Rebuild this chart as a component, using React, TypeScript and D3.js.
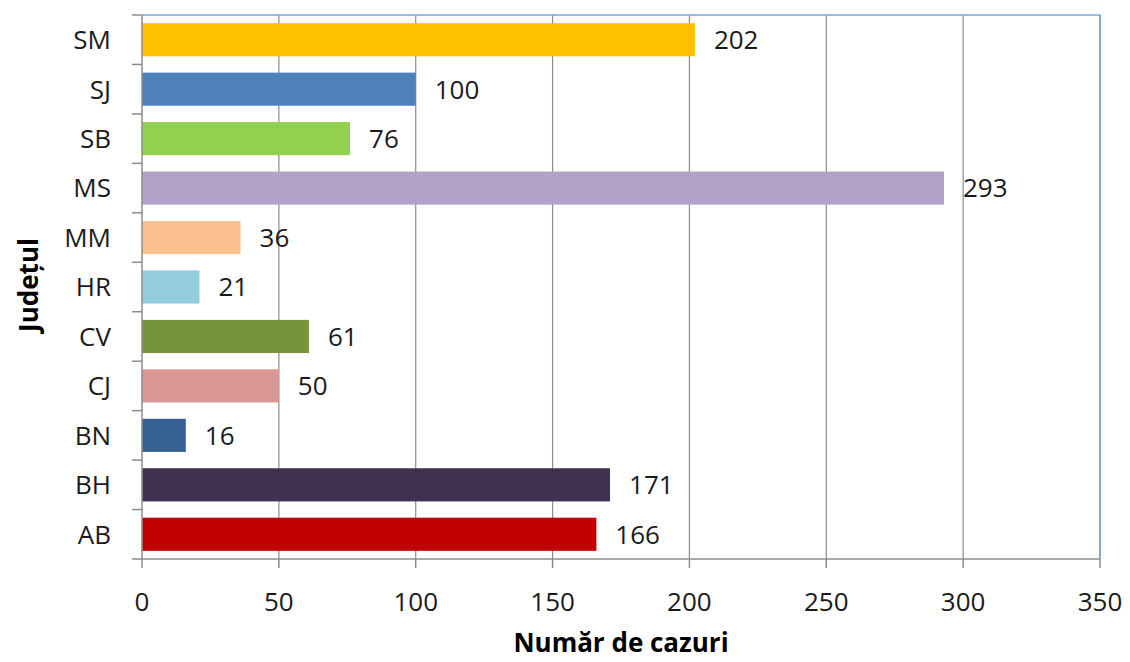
import React from 'react';
import * as d3 from 'd3';

// counties, bottom to top as in the chart
const judete = ['AB', 'BH', 'BN', 'CJ', 'CV', 'HR', 'MM', 'MS', 'SB', 'SJ', 'SM'];
const cazuri = [166, 171, 16, 50, 61, 21, 36, 293, 76, 100, 202];
const culori = ['#C00000', '#403152', '#376092', '#D99694', '#77933C', '#93CDDD', '#FAC090', '#B3A2C7', '#92D050', '#4F81BD', '#FFC000'];
const xTicks = [0, 50, 100, 150, 200, 250, 300, 350];

const W = 1130;
const H = 662;
const plot = { left: 142, right: 1100, top: 15, bottom: 559 };
const font = '"Open Sans", "Liberation Sans", sans-serif';
const fs = 26;

const App = () => {
  const x = d3.scaleLinear().domain([0, 350]).range([plot.left, plot.right]);
  const y = d3.scaleBand<string>()
    .domain([...judete].reverse())
    .range([plot.top, plot.bottom])
    .paddingInner(0.33)
    .paddingOuter(0.165);
  // band boundaries for the category tick marks
  const bounds = d3.range(judete.length + 1).map(i => plot.top + i * (plot.bottom - plot.top) / judete.length);

  return (
    <svg width={W} height={H} style={{ position: 'absolute', left: 0, top: 0, background: '#fff' }}>
      {/* grid */}
      {xTicks.slice(1, -1).map(t => (
        <line key={'g' + t} x1={x(t)} x2={x(t)} y1={plot.top} y2={plot.bottom} stroke="#8c8c8c" strokeWidth={1.2} />
      ))}
      {/* plot border top/right */}
      <line x1={plot.left} x2={plot.right} y1={plot.top} y2={plot.top} stroke="#7ea6d8" strokeWidth={1.5} />
      <line x1={plot.right} x2={plot.right} y1={plot.top} y2={plot.bottom} stroke="#5b8bd0" strokeWidth={1.5} />

      {/* bars */}
      {judete.map((j, i) => (
        <rect key={j} x={x(0)} y={y(j)} width={x(cazuri[i]) - x(0)} height={y.bandwidth()} fill={culori[i]} />
      ))}
      {/* value labels */}
      {judete.map((j, i) => (
        <text key={'v' + j} x={x(cazuri[i]) + 19} y={(y(j) as number) + y.bandwidth() / 2} dy="0.36em"
          fontFamily={font} fontSize={fs} fill="#1a1a1a">{cazuri[i]}</text>
      ))}

      {/* axes */}
      <line x1={plot.left} x2={plot.left} y1={plot.top} y2={plot.bottom} stroke="#8c8c8c" strokeWidth={1.5} />
      <line x1={plot.left} x2={plot.right} y1={plot.bottom} y2={plot.bottom} stroke="#8c8c8c" strokeWidth={1.5} />
      {bounds.map((b, i) => (
        <line key={'yt' + i} x1={plot.left - 10} x2={plot.left} y1={b} y2={b} stroke="#8c8c8c" strokeWidth={1.5} />
      ))}
      {xTicks.map(t => (
        <line key={'xt' + t} x1={x(t)} x2={x(t)} y1={plot.bottom} y2={plot.bottom + 9} stroke="#8c8c8c" strokeWidth={1.5} />
      ))}
      {xTicks.map(t => (
        <text key={'xl' + t} x={x(t)} y={611} textAnchor="middle" fontFamily={font} fontSize={fs} fill="#1a1a1a">{t}</text>
      ))}
      {judete.map(j => (
        <text key={'yl' + j} x={111} y={(y(j) as number) + y.bandwidth() / 2} dy="0.36em" textAnchor="end"
          fontFamily={font} fontSize={fs} fill="#1a1a1a">{j}</text>
      ))}

      {/* titles */}
      <text x={621} y={652} textAnchor="middle" fontFamily={font} fontSize={fs} fontWeight="bold" fill="#000">Număr de cazuri</text>
      <text transform={`translate(38,285) rotate(-90)`} textAnchor="middle"
        fontFamily={font} fontSize={fs} fontWeight="bold" fill="#000">Județul</text>
    </svg>
  );
};

export default App;
